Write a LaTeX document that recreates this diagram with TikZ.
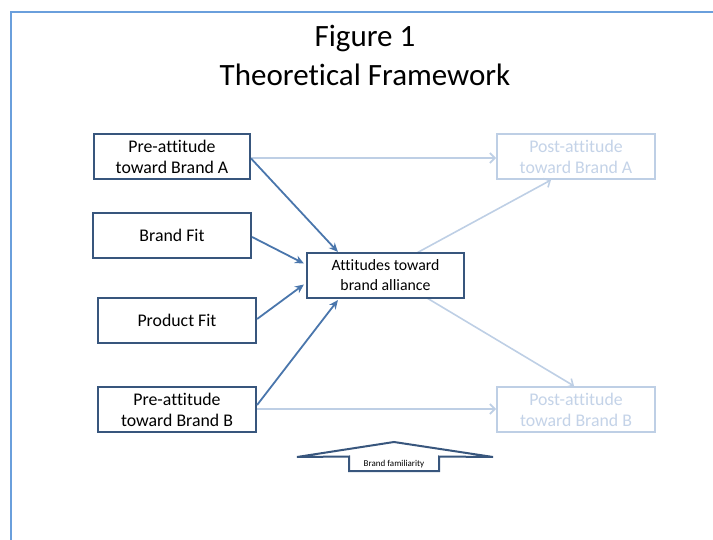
\documentclass[tikz,border=0pt]{standalone}
\usepackage{fontspec}
\setmainfont[Ligatures=NoCommon]{Carlito}
\usetikzlibrary{arrows.meta,calc}
\definecolor{boxdark}{RGB}{56,86,125}
\definecolor{arrdark}{RGB}{74,118,172}
\definecolor{lightline}{RGB}{190,207,229}
\definecolor{lighttext}{RGB}{196,211,232}
\definecolor{framecol}{RGB}{106,159,220}
\tikzset{
  darkbox/.style={draw=boxdark,line width=2.2pt,fill=white,minimum width=156pt,minimum height=45pt,align=center,font=\fontsize{17.8}{21}\selectfont,inner sep=0pt},
  lightbox/.style={draw=lightline,line width=2pt,fill=white,minimum width=158pt,minimum height=45pt,align=center,text=lighttext,font=\fontsize{17.8}{21}\selectfont,inner sep=0pt},
  darkarr/.style={draw=arrdark,line width=1.8pt,-{Stealth[length=9pt,width=8pt]}},
  lightarr/.style={draw=lightline,line width=1.6pt,-{Straight Barb[length=5pt,width=10pt]}},
}
\begin{document}
\begin{tikzpicture}[x=1pt,y=-1pt]
\useasboundingbox (0,0) rectangle (713,540);
\clip (0,0) rectangle (713,540);
\draw[framecol,line width=1.8pt] (11,12) rectangle (760,600);
\node[font=\fontsize{31}{36}\selectfont] (t1) at (365,39) {Figure 1};
\node[font=\fontsize{31}{36}\selectfont] (t2) at (365,75) {Theoretical Framework};
% light arrows first (behind)
\node[lightbox] (pa) at (576,156.5) {Post-attitude\\toward Brand A};
\node[lightbox] (pb) at (576,409.5) {Post-attitude\\toward Brand B};
\coordinate (aout) at (413,255);
\coordinate (bout) at (427,298);
\draw[lightarr] (250,158) -- (pa.west |- 0,158);
\draw[lightarr] (256,409) -- (pb.west |- 0,409);
\draw[lightarr] (aout) -- ($(pa.south west)+(55,0)$);
\draw[lightarr] (bout) -- ($(pb.north west)+(78,0)$);
\node[darkbox,minimum width=156pt] (a) at (172,156.5) {Pre-attitude\\toward Brand A};
\node[darkbox,minimum width=158pt] (bf) at (172,235.5) {Brand Fit};
\node[darkbox,minimum width=158pt] (pf) at (177,320.5) {Product Fit};
\node[darkbox,minimum width=158pt] (b) at (177,409.5) {Pre-attitude\\toward Brand B};
\node[darkbox,minimum width=157pt,font=\fontsize{15.8}{20}\selectfont] (att) at (385.5,275.5) {Attitudes toward\\brand alliance};
\draw[darkarr] ($(a.east)+(0,2)$) -- ($(att.north west)+(32,0)$);
\draw[darkarr] ($(bf.east)+(0,1.5)$) -- ($(att.west)+(-2,-12)$);
\draw[darkarr] ($(pf.east)+(0,-1.5)$) -- ($(att.west)+(-2,9)$);
\draw[darkarr] ($(b.east)+(0,-4.5)$) -- ($(att.south west)+(32,1)$);
% brand familiarity arrow
\draw[boxdark,line width=2pt,fill=white,line join=miter]
  (349,471) -- (349,456.5) -- (297,457) -- (394,442) -- (493,457) -- (439,456.5) -- (439,471) -- cycle;
\node[font=\fontsize{9}{11}\selectfont,inner sep=0pt] (bfam) at (394,464) {Brand familiarity};
\end{tikzpicture}
\end{document}
